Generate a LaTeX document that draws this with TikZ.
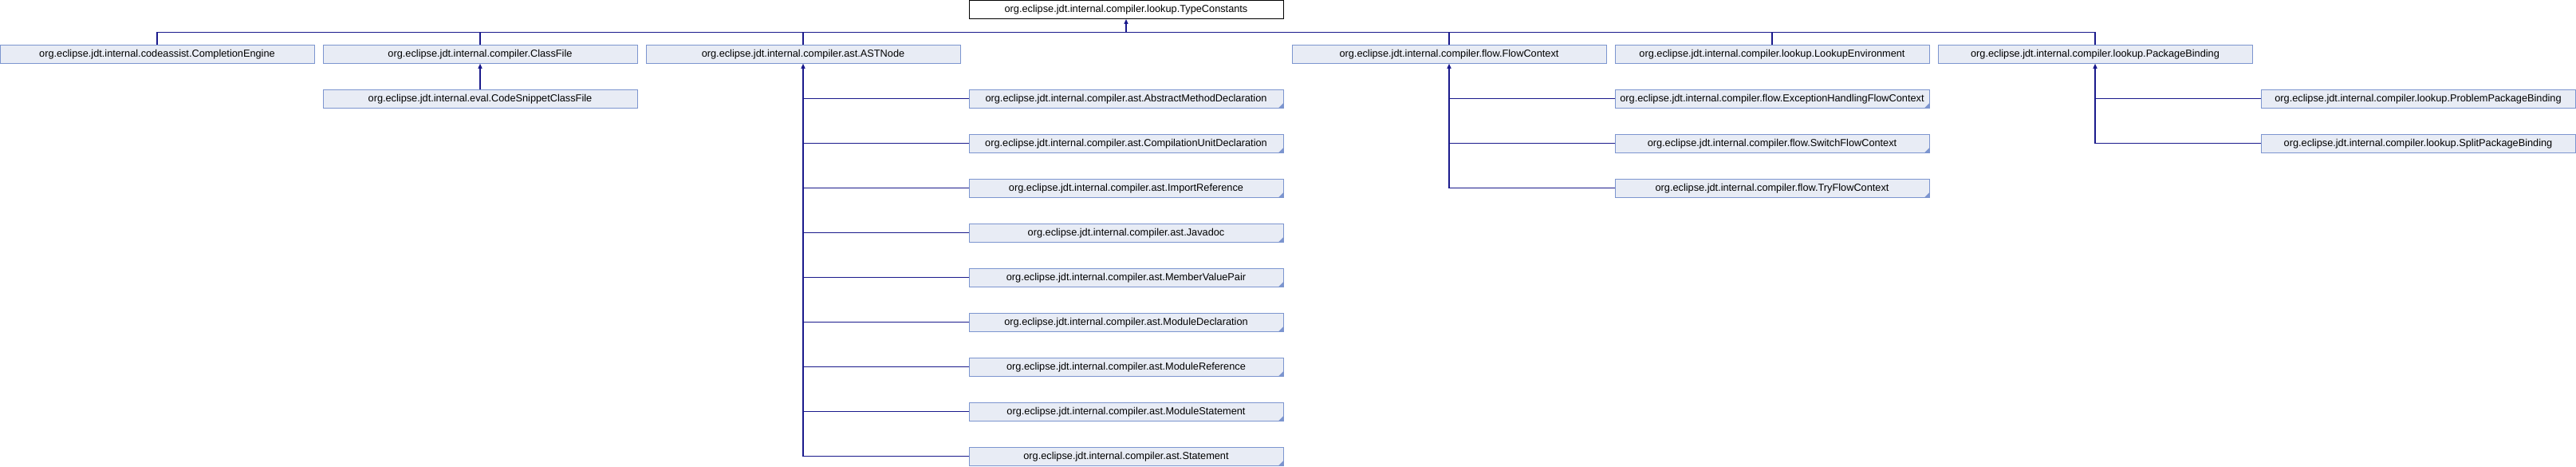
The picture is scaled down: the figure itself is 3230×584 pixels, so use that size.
\documentclass[tikz,border=0pt]{standalone}
\usepackage{fontspec}
\setmainfont{Liberation Sans}
\usetikzlibrary{arrows.meta}
\definecolor{boxfill}{RGB}{232,236,245}
\definecolor{boxborder}{RGB}{124,149,207}
\definecolor{edgecol}{RGB}{26,26,140}
\tikzset{
  cls/.style={draw=boxborder, fill=boxfill, line width=0.9pt, minimum width=394pt,
    minimum height=23pt, inner sep=0pt, font=\fontsize{12.75}{14}\selectfont},
  rootcls/.style={cls, draw=black, fill=white},
  trunc/.style={path picture={\fill[boxborder] (path picture bounding box.south east)
    -- ++(-6pt,0pt) -- ++(6pt,6pt) -- cycle;}},
  edge/.style={draw=edgecol, line width=1.2pt},
  inh/.style={edge, -{Triangle[length=6pt,width=5pt]}},
}
\begin{document}
\begin{tikzpicture}[x=1pt,y=-1pt]
\useasboundingbox (0,0) rectangle (3230,584);
% root
\node[rootcls] (tc) at (1412,12) {org.eclipse.jdt.internal.compiler.lookup.TypeConstants};
% row 1
\node[cls] (ce) at (197,67.8) {org.eclipse.jdt.internal.codeassist.CompletionEngine};
\node[cls] (cf) at (602,67.8) {org.eclipse.jdt.internal.compiler.ClassFile};
\node[cls] (ast) at (1007,67.8) {org.eclipse.jdt.internal.compiler.ast.ASTNode};
\node[cls] (fc) at (1817,67.8) {org.eclipse.jdt.internal.compiler.flow.FlowContext};
\node[cls] (le) at (2222,67.8) {org.eclipse.jdt.internal.compiler.lookup.LookupEnvironment};
\node[cls] (pb) at (2627,67.8) {org.eclipse.jdt.internal.compiler.lookup.PackageBinding};
% ClassFile child
\node[cls] (cscf) at (602,123.8) {org.eclipse.jdt.internal.eval.CodeSnippetClassFile};
% ASTNode children
\node[cls,trunc] (a1) at (1412,123.8) {org.eclipse.jdt.internal.compiler.ast.AbstractMethodDeclaration};
\node[cls,trunc] (a2) at (1412,179.8) {org.eclipse.jdt.internal.compiler.ast.CompilationUnitDeclaration};
\node[cls,trunc] (a3) at (1412,235.8) {org.eclipse.jdt.internal.compiler.ast.ImportReference};
\node[cls,trunc] (a4) at (1412,291.8) {org.eclipse.jdt.internal.compiler.ast.Javadoc};
\node[cls,trunc] (a5) at (1412,347.8) {org.eclipse.jdt.internal.compiler.ast.MemberValuePair};
\node[cls,trunc] (a6) at (1412,403.8) {org.eclipse.jdt.internal.compiler.ast.ModuleDeclaration};
\node[cls,trunc] (a7) at (1412,459.8) {org.eclipse.jdt.internal.compiler.ast.ModuleReference};
\node[cls,trunc] (a8) at (1412,515.8) {org.eclipse.jdt.internal.compiler.ast.ModuleStatement};
\node[cls,trunc] (a9) at (1412,571.8) {org.eclipse.jdt.internal.compiler.ast.Statement};
% FlowContext children
\node[cls,trunc] (f1) at (2222,123.8) {org.eclipse.jdt.internal.compiler.flow.ExceptionHandlingFlowContext};
\node[cls,trunc] (f2) at (2222,179.8) {org.eclipse.jdt.internal.compiler.flow.SwitchFlowContext};
\node[cls,trunc] (f3) at (2222,235.8) {org.eclipse.jdt.internal.compiler.flow.TryFlowContext};
% PackageBinding children
\node[cls] (p1) at (3032,123.8) {org.eclipse.jdt.internal.compiler.lookup.ProblemPackageBinding};
\node[cls] (p2) at (3032,179.8) {org.eclipse.jdt.internal.compiler.lookup.SplitPackageBinding};
% root bus
\coordinate (bus) at (1412,40.3);
\draw[inh] (bus) -- (tc.south);
\draw[edge] (ce.north) -- (ce.north |- bus) -- (pb.north |- bus) -- (pb.north);
\foreach \n in {cf,ast,fc,le}{\draw[edge] (\n.north) -- (\n.north |- bus);}
% ClassFile
\draw[inh] (cscf.north) -- (cf.south);
% ASTNode
\draw[inh] (a9.west) -| (ast.south);
\foreach \n in {a1,a2,a3,a4,a5,a6,a7,a8}{\draw[edge] (\n.west) -- (\n.west -| ast.south);}
% FlowContext
\draw[inh] (f3.west) -| (fc.south);
\foreach \n in {f1,f2}{\draw[edge] (\n.west) -- (\n.west -| fc.south);}
% PackageBinding
\draw[inh] (p2.west) -| (pb.south);
\draw[edge] (p1.west) -- (p1.west -| pb.south);
\end{tikzpicture}
\end{document}
